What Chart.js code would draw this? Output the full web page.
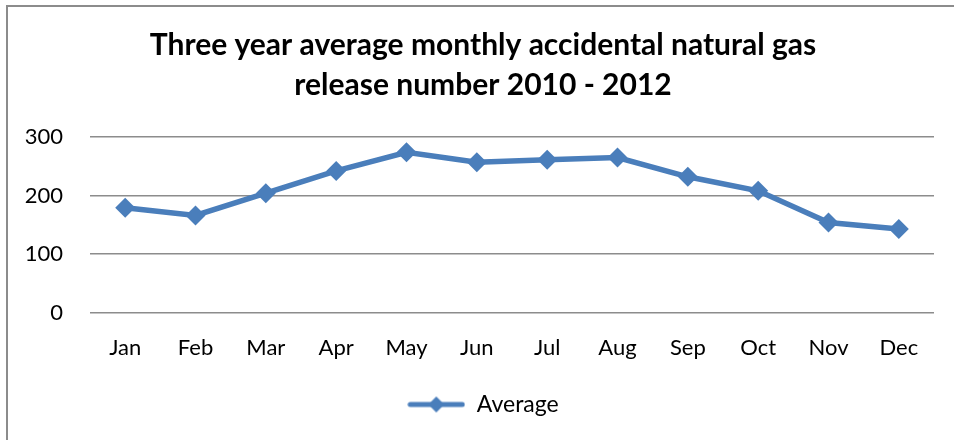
<!DOCTYPE html>
<html>
<head>
<meta charset="utf-8">
<script src="https://cdn.jsdelivr.net/npm/chart.js@4.4.1/dist/chart.umd.min.js"></script>
<style>
  html, body { margin: 0; padding: 0; background: #fff; }
  #wrap { position: relative; width: 954px; height: 440px; overflow: hidden; }
  #frame { position: absolute; left: 6px; top: 5px; width: 960px; height: 450px;
           border-left: 2px solid #8c8c8c; border-top: 2px solid #8c8c8c; box-sizing: border-box; }
  canvas { position: absolute; left: 0; top: 0; }
</style>
</head>
<body>
<div id="wrap">
  <div id="frame"></div>
  <canvas id="chart" width="954" height="440"></canvas>
</div>
<script>
var months = ["Jan", "Feb", "Mar", "Apr", "May", "Jun", "Jul", "Aug", "Sep", "Oct", "Nov", "Dec"];
var averageValues = [179, 166, 204, 242, 274, 257, 261, 265, 232, 208, 154, 143];
var yTicks = [0, 100, 200, 300];

var lineColor = "#4a7ebb",
    gridColor = "#8c8c8c",
    fontName = "Lato, 'Open Sans', sans-serif";

/* legend marker: a short line with a diamond in the middle */
function legendMarker() {
    var c = document.createElement("canvas");
    c.width = 58;
    c.height = 20;
    var ctx = c.getContext("2d");
    ctx.strokeStyle = lineColor;
    ctx.lineWidth = 5;
    ctx.lineCap = "round";
    ctx.beginPath();
    ctx.moveTo(3, 10);
    ctx.lineTo(55, 10);
    ctx.stroke();
    ctx.fillStyle = lineColor;
    ctx.beginPath();
    ctx.moveTo(29, 2);
    ctx.lineTo(37, 10);
    ctx.lineTo(29, 18);
    ctx.lineTo(21, 10);
    ctx.closePath();
    ctx.fill();
    return c;
}
var marker = legendMarker();

new Chart(document.getElementById("chart"), {
    type: "line",
    data: {
        labels: months,
        datasets: [{
            label: "Average",
            data: averageValues,
            borderColor: lineColor,
            backgroundColor: lineColor,
            borderWidth: 5.5,
            pointStyle: "rectRot",
            pointRadius: 10,
            pointHoverRadius: 10,
            pointBackgroundColor: lineColor,
            pointBorderColor: lineColor,
            pointBorderWidth: 0,
            tension: 0
        }]
    },
    options: {
        responsive: false,
        animation: false,
        layout: { padding: { left: 12, right: 0, top: 0, bottom: 14 } },
        plugins: {
            title: {
                display: true,
                text: ["Three year average monthly accidental natural gas", "release number 2010 - 2012"],
                color: "#000",
                font: { family: fontName, size: 30, weight: "bold", lineHeight: 1.35 },
                padding: { top: 25, bottom: 31 }
            },
            legend: {
                display: true,
                position: "bottom",
                labels: {
                    usePointStyle: true,
                    pointStyleWidth: 58,
                    color: "#000",
                    font: { family: fontName, size: 23 },
                    padding: 10,
                    generateLabels: function(chart) {
                        return chart.data.datasets.map(function(ds, i) {
                            return {
                                text: ds.label,
                                pointStyle: marker,
                                fillStyle: lineColor,
                                strokeStyle: lineColor,
                                lineWidth: 0,
                                datasetIndex: i,
                                fontColor: "#000"
                            };
                        });
                    }
                }
            },
            tooltip: { enabled: false }
        },
        scales: {
            x: {
                offset: true,
                grid: { display: false, drawTicks: false },
                border: { display: false },
                ticks: { color: "#000", font: { family: fontName, size: 22 }, padding: 22 }
            },
            y: {
                min: 0,
                max: 300,
                afterBuildTicks: function(scale) {
                    scale.ticks = yTicks.map(function(v) { return { value: v }; });
                },
                afterFit: function(scale) { scale.width = 78; },
                grid: { color: gridColor, lineWidth: 1.5, drawTicks: false },
                border: { display: false },
                ticks: { color: "#000", font: { family: fontName, size: 22 }, padding: 27 }
            },
            /* empty right-hand axis that only reserves the right margin */
            yRight: {
                position: "right",
                min: 0,
                max: 300,
                afterFit: function(scale) { scale.width = 20; },
                grid: { display: false, drawTicks: false },
                border: { display: false },
                ticks: { display: false }
            }
        }
    }
});
</script>
</body>
</html>
